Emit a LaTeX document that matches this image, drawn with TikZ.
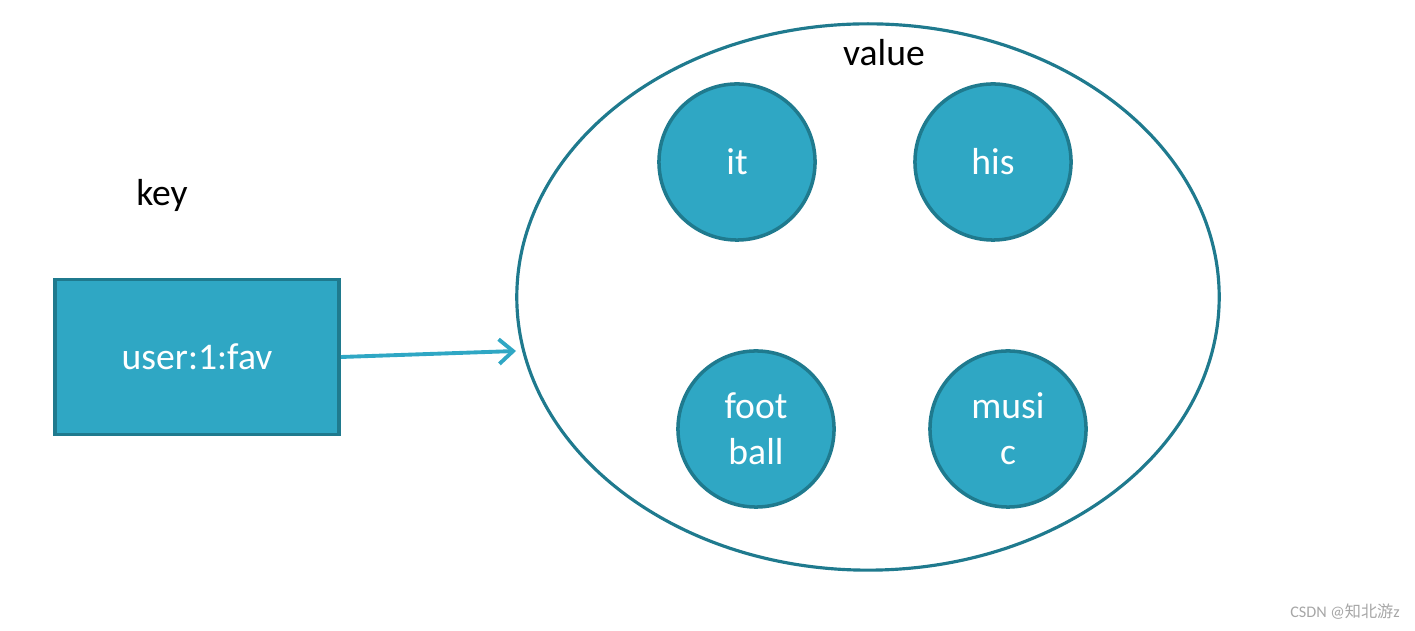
\documentclass[tikz,border=0pt]{standalone}
\usepackage{fontspec}
\setmainfont{Carlito}
\newfontfamily\cjk{Noto Sans CJK SC}
\usetikzlibrary{arrows.meta,shapes.geometric}
\definecolor{tealfill}{HTML}{2FA7C4}
\definecolor{tealline}{HTML}{1F7A8E}
\tikzset{
  keybox/.style={draw=tealline, fill=tealfill, line width=1.1pt, minimum width=2.84cm, minimum height=1.55cm, text=white, font=\fontsize{10.7}{12.5}\selectfont},
  member/.style={circle, draw=tealline, fill=tealfill, line width=1pt, minimum size=1.56cm, inner sep=0pt, text=white, align=center, font=\fontsize{10.7}{13}\selectfont},
  plain/.style={font=\fontsize{10.7}{12.5}\selectfont}
}
\begin{document}
\begin{tikzpicture}[x=0.01cm, y=-0.01cm, >={Straight Barb[length=4pt,width=7pt]}]
\useasboundingbox (0,0) rectangle (1415,631);

% key side
\node [plain] (keylabel) at (162,195) {key};
\node [keybox] (key) at (197,357) {user:1:fav};

% value side
\node [ellipse, draw=tealline, line width=0.9pt, minimum width=7.02cm, minimum height=5.46cm] (set) at (868,297) {};
\node [plain] (valuelabel) at (884,53) {value};
\node [member] (it) at (737,162) {it};
\node [member] (his) at (993,162) {his};
\node [member] (football) at (756,429) {foot\\ball};
\node [member] (music) at (1008,429) {musi\\c};

\coordinate (tip) at (516,351);
\draw [->, tealfill, line width=1.1pt] (key.east) -- (tip);

\node [text=gray!70, font=\fontsize{4.6}{5}\selectfont] (mark) at (1345,612) {CSDN @{\cjk 知北游}z};

\end{tikzpicture}
\end{document}
